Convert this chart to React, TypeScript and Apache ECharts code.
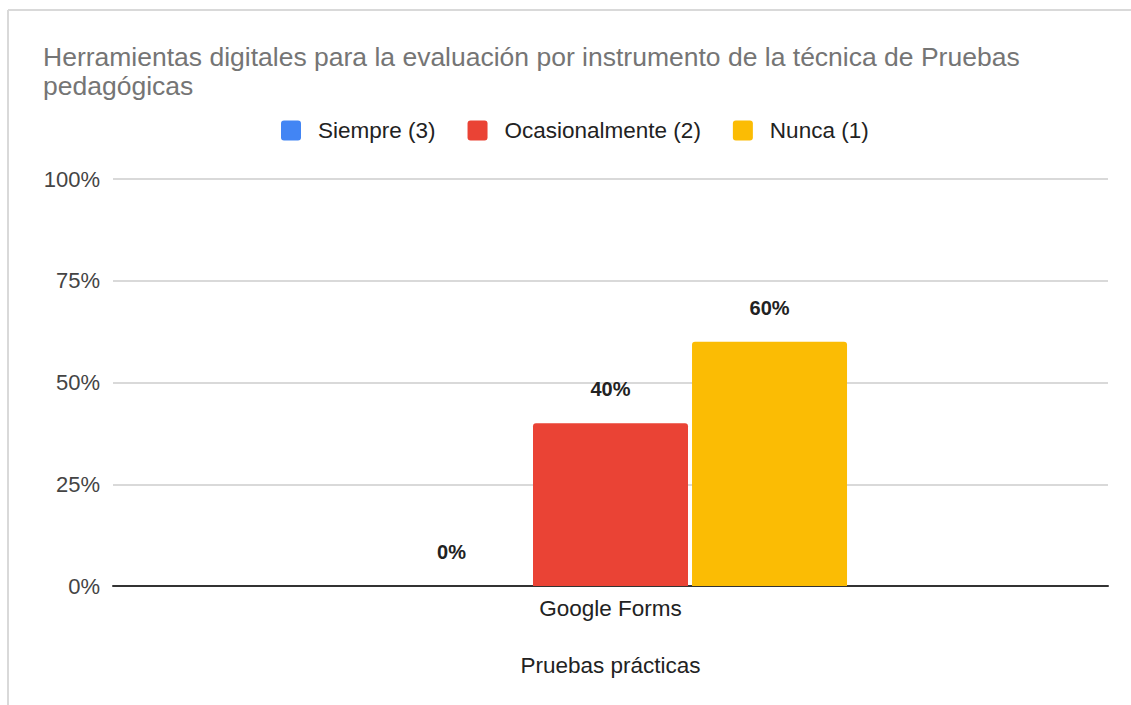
import React, { useEffect, useRef } from "react";
import * as echarts from "echarts";

const categories = ["Google Forms"];
const seriesNames = ["Siempre (3)", "Ocasionalmente (2)", "Nunca (1)"];
const siempre = [0];
const ocasionalmente = [40];
const nunca = [60];
const colors = ["#4285F4", "#EA4335", "#FBBC04"];
const yTicks = [0, 25, 50, 75, 100];

const TITLE =
  "Herramientas digitales para la evaluación por instrumento de la técnica de Pruebas\npedagógicas";
const X_NAME = "Pruebas prácticas";

export default function App() {
  const ref = useRef<HTMLDivElement>(null);
  useEffect(() => {
    if (!ref.current) return;
    const chart = echarts.init(ref.current, undefined, { renderer: "svg" });
    const font = "Liberation Sans, Arial, sans-serif";
    const values = [siempre, ocasionalmente, nunca];
    chart.setOption({
      animation: false,
      backgroundColor: "#ffffff",
      textStyle: { fontFamily: font },
      title: {
        text: TITLE,
        left: 43,
        top: 42,
        padding: 0,
        textStyle: {
          fontFamily: font,
          fontSize: 26.5,
          lineHeight: 29,
          fontWeight: "normal",
          color: "#757575",
        },
      },
      legend: {
        top: 119,
        left: 281,
        padding: 0,
        itemWidth: 20,
        itemHeight: 20,
        itemGap: 32,
        icon: "path://M3,0 H17 Q20,0 20,3 V17 Q20,20 17,20 H3 Q0,20 0,17 V3 Q0,0 3,0 Z",
        data: seriesNames,
        textStyle: {
          fontFamily: font,
          fontSize: 22.5,
          color: "#222222",
          padding: [0, 0, 0, 12],
        },
      },
      grid: { left: 113, right: 23, top: 179, bottom: 119, containLabel: false },
      xAxis: {
        type: "category",
        data: categories,
        name: X_NAME,
        nameLocation: "middle",
        nameGap: 68,
        nameTextStyle: { fontFamily: font, fontSize: 22.5, color: "#222222" },
        axisLine: { show: true, lineStyle: { color: "#333333", width: 2 } },
        axisTick: { show: false },
        axisLabel: { fontFamily: font, fontSize: 22.5, color: "#222222", margin: 11 },
      },
      yAxis: {
        type: "value",
        min: yTicks[0],
        max: yTicks[yTicks.length - 1],
        interval: 25,
        axisLine: { show: false },
        axisTick: { show: false },
        axisLabel: {
          fontFamily: font,
          fontSize: 22,
          color: "#444444",
          margin: 13,
          formatter: "{value}%",
        },
        splitLine: { lineStyle: { color: "#cccccc", width: 1.5 } },
      },
      series: seriesNames.map((name, i) => ({
        name,
        type: "bar",
        data: values[i],
        barWidth: 155,
        barGap: "2.6%",
        itemStyle: { color: colors[i], borderRadius: [3, 3, 0, 0] },
        label: {
          show: true,
          position: "top",
          distance: 24,
          formatter: "{c}%",
          fontFamily: font,
          fontSize: 20,
          fontWeight: "bold",
          color: "#222222",
        },
      })),
      graphic: [
        {
          type: "line",
          shape: { x1: 8, y1: 10, x2: 1131, y2: 10 },
          style: { stroke: "#d9d9d9", lineWidth: 2 },
          silent: true,
        },
        {
          type: "line",
          shape: { x1: 8, y1: 10, x2: 8, y2: 705 },
          style: { stroke: "#d9d9d9", lineWidth: 2 },
          silent: true,
        },
      ],
    });
    return () => chart.dispose();
  }, []);
  return (
    <div
      ref={ref}
      style={{ position: "fixed", left: 0, top: 0, width: 1131, height: 705 }}
    />
  );
}
